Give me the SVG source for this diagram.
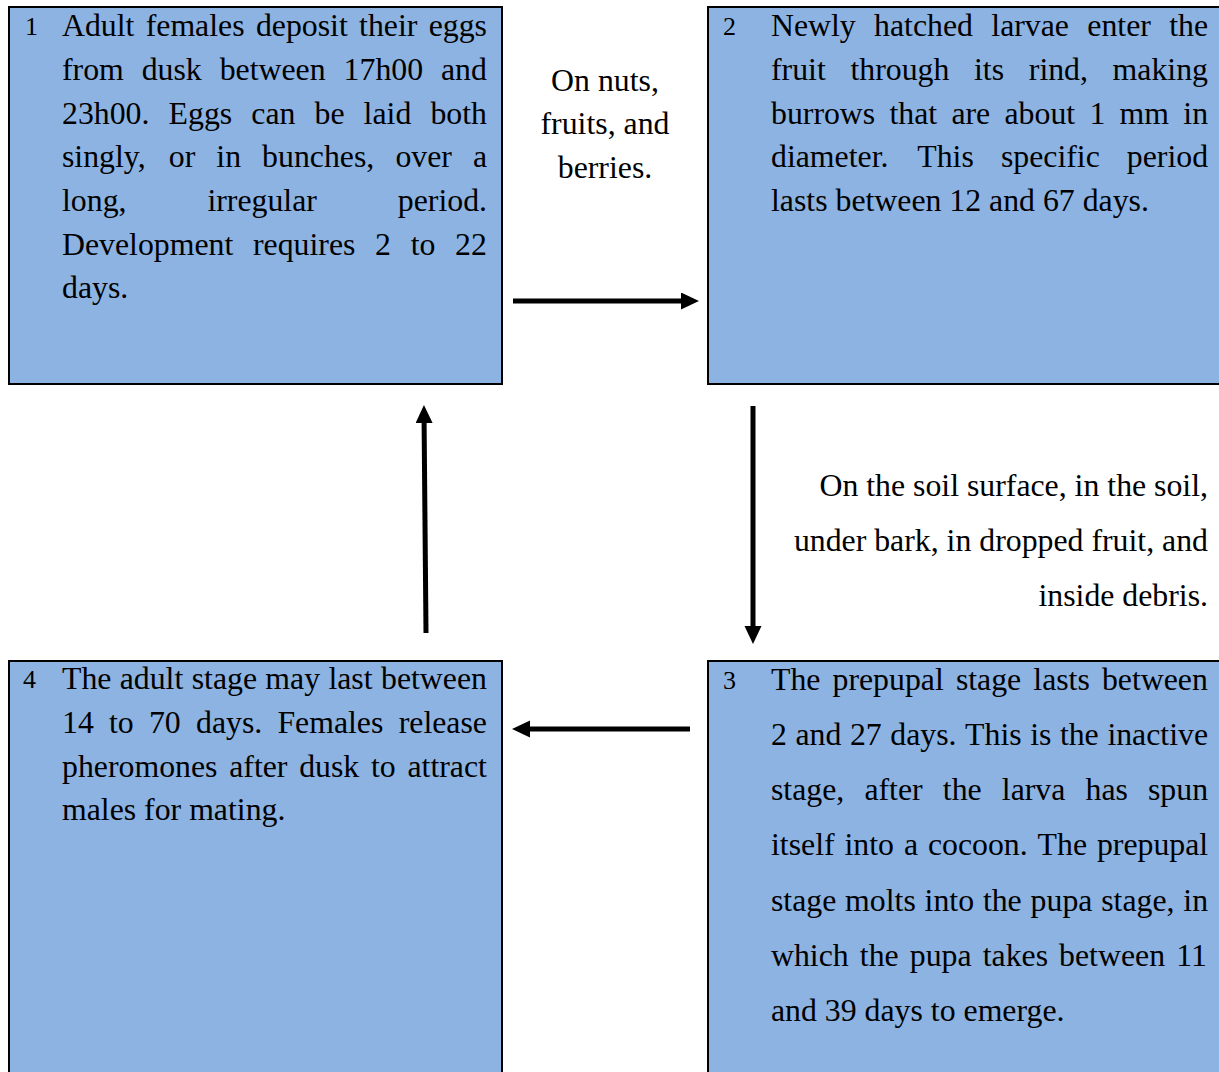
<svg xmlns="http://www.w3.org/2000/svg" width="1219" height="1072" viewBox="0 0 1219 1072">
<style>
.box{fill:#8DB3E2;stroke:#000;stroke-width:2}
.t{font-family:"Liberation Serif","Times New Roman",serif;font-size:31.8px;fill:#000}
.n{font-family:"Liberation Serif","Times New Roman",serif;font-size:26px;fill:#000}
.c{text-anchor:middle}
.r{text-anchor:end}
.arrow{stroke:#000;stroke-width:5;fill:none;marker-end:url(#head)}
</style>
<defs>
<marker id="head" markerUnits="userSpaceOnUse" markerWidth="20" markerHeight="20" refX="0" refY="8.5" orient="auto">
<path d="M0,0 L18,8.5 L0,17 Z" fill="#000"/>
</marker>
</defs>
<rect width="1219" height="1072" fill="#fff"/>

<g id="node1">
<rect class="box" x="9" y="7" width="493" height="377"/>
<text class="n" x="25" y="35">1</text>
<text class="t" y="36"><tspan x="62">Adult</tspan><tspan x="145.7">females</tspan><tspan x="255.9">deposit</tspan><tspan x="359.1">their</tspan><tspan x="428.7">eggs</tspan></text>
<text class="t" y="80"><tspan x="62">from</tspan><tspan x="141.7">dusk</tspan><tspan x="219.7">between</tspan><tspan x="343.6">17h00</tspan><tspan x="441">and</tspan></text>
<text class="t" y="124"><tspan x="62">23h00.</tspan><tspan x="168.6">Eggs</tspan><tspan x="251.3">can</tspan><tspan x="314.5">be</tspan><tspan x="363.6">laid</tspan><tspan x="430.4">both</tspan></text>
<text class="t" y="167"><tspan x="62">singly,</tspan><tspan x="168.8">or</tspan><tspan x="216.3">in</tspan><tspan x="262.1">bunches,</tspan><tspan x="395.4">over</tspan><tspan x="472.9">a</tspan></text>
<text class="t" y="211"><tspan x="62">long,</tspan><tspan x="207.4">irregular</tspan><tspan x="397.8">period.</tspan></text>
<text class="t" y="255"><tspan x="62">Development</tspan><tspan x="253">requires</tspan><tspan x="375.1">2</tspan><tspan x="410.7">to</tspan><tspan x="455.1">22</tspan></text>
<text class="t" x="62" y="298">days.</text>
</g>

<g id="node2">
<rect class="box" x="708" y="7" width="520" height="377"/>
<text class="n" x="723" y="35">2</text>
<text class="t" y="36"><tspan x="771">Newly</tspan><tspan x="874.1">hatched</tspan><tspan x="991.3">larvae</tspan><tspan x="1087.3">enter</tspan><tspan x="1169.2">the</tspan></text>
<text class="t" y="80"><tspan x="771">fruit</tspan><tspan x="850.5">through</tspan><tspan x="974">its</tspan><tspan x="1028.8">rind,</tspan><tspan x="1112.6">making</tspan></text>
<text class="t" y="124"><tspan x="771">burrows</tspan><tspan x="889.5">that</tspan><tspan x="951.4">are</tspan><tspan x="1004.5">about</tspan><tspan x="1089.4">1</tspan><tspan x="1119.6">mm</tspan><tspan x="1183.3">in</tspan></text>
<text class="t" y="167"><tspan x="771">diameter.</tspan><tspan x="917.3">This</tspan><tspan x="1000.9">specific</tspan><tspan x="1126.8">period</tspan></text>
<text class="t" x="771" y="211">lasts between 12 and 67 days.</text>
</g>

<g id="node3">
<rect class="box" x="708" y="661" width="520" height="420"/>
<text class="n" x="723" y="689">3</text>
<text class="t" y="690"><tspan x="771">The</tspan><tspan x="832.5">prepupal</tspan><tspan x="955.9">stage</tspan><tspan x="1033.3">lasts</tspan><tspan x="1101.9">between</tspan></text>
<text class="t" y="745"><tspan x="771">2</tspan><tspan x="795.5">and</tspan><tspan x="849.9">27</tspan><tspan x="890.3">days.</tspan><tspan x="965.1">This</tspan><tspan x="1030.2">is</tspan><tspan x="1059.9">the</tspan><tspan x="1107.4">inactive</tspan></text>
<text class="t" y="800"><tspan x="771">stage,</tspan><tspan x="864.4">after</tspan><tspan x="942.8">the</tspan><tspan x="1001.8">larva</tspan><tspan x="1085.5">has</tspan><tspan x="1148">spun</tspan></text>
<text class="t" y="855"><tspan x="771">itself</tspan><tspan x="844.5">into</tspan><tspan x="903.9">a</tspan><tspan x="927.9">cocoon.</tspan><tspan x="1037.6">The</tspan><tspan x="1096.9">prepupal</tspan></text>
<text class="t" y="911"><tspan x="771">stage</tspan><tspan x="845.1">molts</tspan><tspan x="924.6">into</tspan><tspan x="982.9">the</tspan><tspan x="1030.6">pupa</tspan><tspan x="1101.2">stage,</tspan><tspan x="1183.3">in</tspan></text>
<text class="t" y="966"><tspan x="771">which</tspan><tspan x="859.8">the</tspan><tspan x="909.8">pupa</tspan><tspan x="982.7">takes</tspan><tspan x="1059.1">between</tspan><tspan x="1176.2">11</tspan></text>
<text class="t" x="771" y="1021">and 39 days to emerge.</text>
</g>

<g id="node4">
<rect class="box" x="9" y="661" width="493" height="420"/>
<text class="n" x="23" y="688">4</text>
<text class="t" y="689"><tspan x="62">The</tspan><tspan x="119.7">adult</tspan><tspan x="191.7">stage</tspan><tspan x="265.3">may</tspan><tspan x="328.4">last</tspan><tspan x="381">between</tspan></text>
<text class="t" y="733"><tspan x="62">14</tspan><tspan x="109">to</tspan><tspan x="148.9">70</tspan><tspan x="196">days.</tspan><tspan x="277.4">Females</tspan><tspan x="398.7">release</tspan></text>
<text class="t" y="777"><tspan x="62">pheromones</tspan><tspan x="229.2">after</tspan><tspan x="299.2">dusk</tspan><tspan x="371">to</tspan><tspan x="407.5">attract</tspan></text>
<text class="t" x="62" y="820">males for mating.</text>
</g>

<g id="label-top">
<text class="t c" x="605" y="91">On nuts,</text>
<text class="t c" x="605" y="134">fruits, and</text>
<text class="t c" x="605" y="178">berries.</text>
</g>

<g id="label-right">
<text class="t r" x="1208" y="496">On the soil surface, in the soil,</text>
<text class="t r" x="1208" y="551">under bark, in dropped fruit, and</text>
<text class="t r" x="1208" y="606">inside debris.</text>
</g>

<g id="connectors">
<line class="arrow" x1="513" y1="301" x2="681" y2="301"/>
<line class="arrow" x1="753" y1="406" x2="753" y2="626"/>
<line class="arrow" x1="690" y1="729" x2="530" y2="729"/>
<line class="arrow" x1="426" y1="633" x2="424.1" y2="423"/>
</g>
</svg>
